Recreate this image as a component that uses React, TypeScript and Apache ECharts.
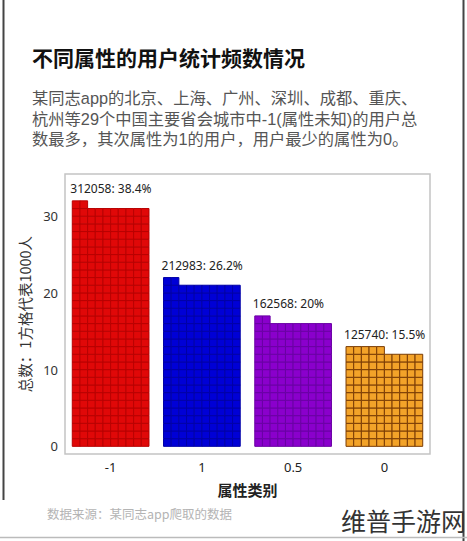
import React, { useEffect, useRef } from "react";
import * as echarts from "echarts";

const categories = ["-1", "1", "0.5", "0"];
const userCounts = [312058, 212983, 162568, 125740];
const percentages = [38.4, 26.2, 20, 15.5];
const usersPerSquare = 1000;
const squaresPerRow = 10;
const fillColors = ["#e00808", "#0000d6", "#8a00cc", "#f3a329"];
const strokeColors = ["#b80202", "#0000a6", "#6a00a4", "#7a3c05"];

const titleText = "不同属性的用户统计频数情况";
const subtitleLines = [
  "某同志app的北京、上海、广州、深圳、成都、重庆、",
  "杭州等29个中国主要省会城市中-1(属性未知)的用户总",
  "数最多，其次属性为1的用户，用户最少的属性为0。",
];
const sourceText = "数据来源：某同志app爬取的数据";
const watermarkText = "维普手游网";
const xAxisName = "属性类别";
const yAxisName = "总数：1方格代表1000人";

const FONT = "'Noto Sans', 'Noto Sans CJK SC', sans-serif";
const CJK = "'Noto Sans CJK SC', 'Noto Sans', sans-serif";
const SUB = "'Liberation Sans', 'Noto Sans CJK SC', sans-serif";

export default function App() {
  const ref = useRef<HTMLDivElement>(null);

  useEffect(() => {
    if (!ref.current) return;
    const chart = echarts.init(ref.current, undefined, { renderer: "svg" });

    const data = categories.map((c, i) => [
      i,
      Math.floor(userCounts[i] / usersPerSquare),
      userCounts[i],
      percentages[i],
    ]);

    const subtitleTitles = subtitleLines.map((line, i) => ({
      text: line,
      left: 32,
      top: 89.5 + i * 20.5,
      padding: 0,
      textStyle: {
        fontSize: 16.3,
        fontWeight: "normal",
        color: "#555",
        lineHeight: 17,
        fontFamily: SUB,
      },
    }));

    const option: any = {
      animation: false,
      backgroundColor: "#ffffff",
      title: [
        {
          text: titleText,
          left: 32,
          top: 46,
          padding: 0,
          textStyle: { fontSize: 21, fontWeight: "bold", color: "#111", fontFamily: CJK },
        },
        ...subtitleTitles,
        {
          text: sourceText,
          left: 47,
          top: 507,
          padding: 0,
          textStyle: { fontSize: 12.5, fontWeight: "normal", color: "#b4b4b4", fontFamily: CJK },
        },
        {
          text: watermarkText,
          left: 341,
          top: 507,
          padding: 0,
          textStyle: { fontSize: 25, fontWeight: "normal", color: "#333", fontFamily: CJK },
        },
      ],
      graphic: [
        { type: "line", shape: { x1: 3.5, y1: 0, x2: 3.5, y2: 500 }, style: { stroke: "#444", lineWidth: 2 } },
        { type: "line", shape: { x1: 463.5, y1: 0, x2: 463.5, y2: 541 }, style: { stroke: "#444", lineWidth: 2 } },
        { type: "line", shape: { x1: 0, y1: 537.5, x2: 467, y2: 537.5 }, style: { stroke: "#bbb", lineWidth: 1.5 } },
      ],
      grid: {
        left: 65,
        top: 174,
        right: 37,
        bottom: 87,
        show: true,
        borderColor: "#c4c4c4",
        borderWidth: 1.5,
        backgroundColor: "#fff",
      },
      xAxis: {
        type: "category",
        data: categories,
        boundaryGap: true,
        axisLine: { show: false },
        axisTick: { show: false },
        axisLabel: { margin: 6, fontSize: 13, color: "#222", fontFamily: FONT },
        name: xAxisName,
        nameLocation: "middle",
        nameGap: 28,
        nameTextStyle: { fontSize: 15, fontWeight: "bold", color: "#222", fontFamily: CJK },
      },
      yAxis: {
        type: "value",
        min: -1,
        max: 35.5,
        splitNumber: 4,
        splitLine: { show: false },
        axisLine: { show: false },
        axisTick: { show: false },
        axisLabel: {
          margin: 7,
          fontSize: 13,
          color: "#333",
          fontFamily: FONT,
          formatter: (v: number) => (v % 10 === 0 ? String(v) : ""),
        },
        name: yAxisName,
        nameLocation: "middle",
        nameGap: 22,
        nameTextStyle: { fontSize: 14.5, color: "#333", fontFamily: CJK },
      },
      series: [
        {
          type: "custom",
          data,
          clip: false,
          renderItem: (params: any, api: any) => {
            const idx = api.value(0);
            const n = api.value(1);
            const count = api.value(2);
            const pct = api.value(3);
            const base = api.coord([idx, 0]);
            const s = api.size([0, 1])[1];
            const left = base[0] - (s * squaresPerRow) / 2;
            const children: any[] = [];
            for (let k = 0; k < n; k++) {
              const row = Math.floor(k / squaresPerRow);
              const col = k % squaresPerRow;
              children.push({
                type: "rect",
                shape: { x: left + col * s, y: base[1] - (row + 1) * s, width: s, height: s },
                style: { fill: fillColors[idx], stroke: strokeColors[idx], lineWidth: 1 },
              });
            }
            const rows = Math.ceil(n / squaresPerRow);
            const topY = base[1] - rows * s;
            children.push({
              type: "text",
              x: left - 2,
              y: topY - 12,
              style: {
                text: `${count}: ${pct}%`,
                fill: "#222",
                fontSize: 12,
                fontFamily: FONT,
                align: "left",
                verticalAlign: "middle",
              },
            });
            return { type: "group", children };
          },
        },
      ],
    };

    chart.setOption(option);
    return () => chart.dispose();
  }, []);

  return (
    <div
      ref={ref}
      style={{ position: "absolute", left: 0, top: 0, width: 467, height: 541 }}
    />
  );
}
